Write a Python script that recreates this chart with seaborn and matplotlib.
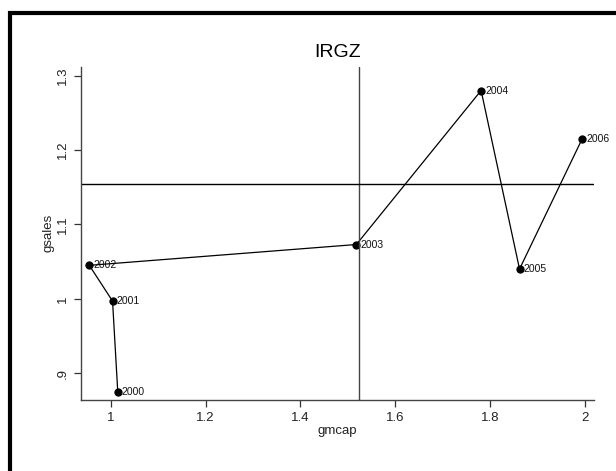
import numpy as np
import pandas as pd
import seaborn as sns
import matplotlib.pyplot as plt
from matplotlib.patches import Rectangle

# values
years = [2000, 2001, 2002, 2003, 2004, 2005, 2006]
gmcap = [1.015, 1.004, 0.955, 1.518, 1.781, 1.862, 1.994]
gsales = [0.875, 0.997, 1.045, 1.073, 1.280, 1.040, 1.215]
gmcap_ref = 1.523
gsales_ref = 1.155
xticks = [1, 1.2, 1.4, 1.6, 1.8, 2]
xticklabels = ['1', '1.2', '1.4', '1.6', '1.8', '2']
yticks = [0.9, 1.0, 1.1, 1.2, 1.3]
yticklabels = ['.9', '1', '1.1', '1.2', '1.3']

df = pd.DataFrame({'year': years, 'gmcap': gmcap, 'gsales': gsales})

sns.set_style('ticks')
plt.rcParams['font.family'] = ['Liberation Sans', 'DejaVu Sans']

fig = plt.figure(figsize=(6.16, 4.71), dpi=100)
ax = fig.add_axes([81 / 616, 1 - 400 / 471, (594 - 81) / 616, (400 - 66.7) / 471])

sns.lineplot(data=df, x='gmcap', y='gsales', sort=False, ax=ax,
             color='black', linewidth=0.9, marker='o', markersize=5.2,
             markeredgecolor='black', markerfacecolor='black')

for yr, xv, yv in zip(df['year'], df['gmcap'], df['gsales']):
    ax.annotate(str(yr), (xv, yv), xytext=(3, 0), textcoords='offset points',
                ha='left', va='center', fontsize=7.5, color='#111111')

ax.axvline(gmcap_ref, color='#444444', linewidth=1.0)
ax.axhline(gsales_ref, color='black', linewidth=1.0)

ax.set_xlim(0.9375, 2.019)
ax.set_ylim(0.864, 1.312)
ax.set_xticks(xticks)
ax.set_xticklabels(xticklabels)
ax.set_yticks(yticks)
ax.set_yticklabels(yticklabels, rotation=90, va='center')

ax.tick_params(axis='both', length=5, width=0.9, pad=3.5, labelsize=9.5,
               colors='#333333', labelcolor='#222222')
sns.despine(ax=ax)
for s in ['left', 'bottom']:
    ax.spines[s].set_color('#444444')
    ax.spines[s].set_linewidth(1.0)

ax.set_xlabel('gmcap', fontsize=9.5, labelpad=1, color='#222222')
ax.set_ylabel('gsales', fontsize=9.5, labelpad=2, color='#222222')
ax.set_title('IRGZ', fontsize=14, pad=7, color='black')

# thick outer frame, running off the right and bottom edges
fig.add_artist(Rectangle((10 / 616, -0.2), 1.5, 1 - 13 / 471 + 0.2,
                         transform=fig.transFigure, fill=False,
                         edgecolor='black', linewidth=3.0))

fig.savefig('out.png', dpi=100, facecolor='white')
